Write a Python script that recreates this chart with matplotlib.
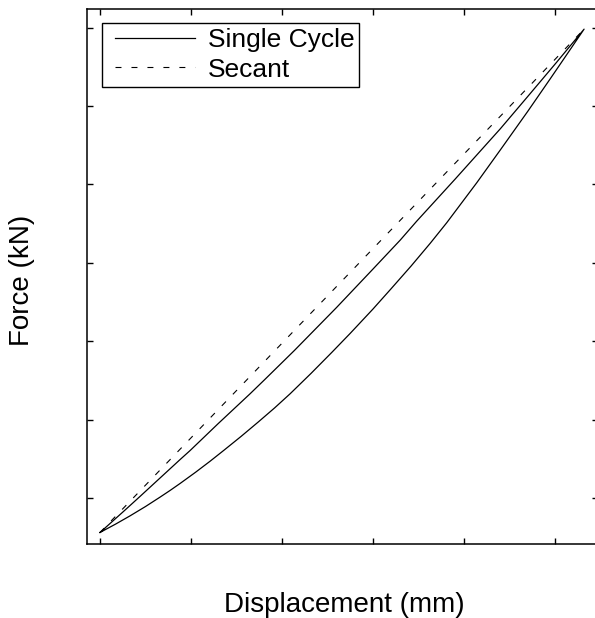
import matplotlib
matplotlib.use("Agg")
import matplotlib.pyplot as plt
from matplotlib.lines import Line2D
from matplotlib.legend_handler import HandlerLine2D

plt.rcParams['font.family'] = ['Liberation Sans', 'DejaVu Sans']
plt.rcParams['lines.scale_dashes'] = False

# Loading branch (lower curve)
load_x = [0.00, 0.17, 0.33, 0.50, 0.66, 0.77, 0.88, 1.05, 1.21, 1.36, 1.55, 1.74, 1.92,
          2.09, 2.32, 2.55, 2.75, 3.00, 3.20, 3.42, 3.63, 3.81, 4.14, 4.40, 4.70,
          4.95, 5.15, 5.32]
load_y = [-0.44, -0.334, -0.228, -0.109, 0.011, 0.096, 0.185, 0.328, 0.469, 0.607, 0.785,
          0.97, 1.15, 1.33, 1.59, 1.86, 2.10, 2.41, 2.67, 2.96, 3.25, 3.51, 4.02,
          4.44, 4.93, 5.35, 5.69, 5.98]
# Unloading branch (upper curve), from origin to peak
unload_x = [0.00, 0.26, 0.44, 0.66, 0.88, 0.99, 1.30, 1.65, 1.81, 2.135, 2.60, 3.00,
            3.30, 3.48, 3.905, 4.40, 4.70, 5.02, 5.32]
unload_y = [-0.44, -0.17, 0.02, 0.255, 0.49, 0.605, 0.95, 1.33, 1.51, 1.88, 2.43,
            2.92, 3.29, 3.53, 4.07, 4.71, 5.12, 5.56, 5.98]
# Secant endpoints
secant_x = [0.00, 5.32]
secant_y = [-0.44, 5.98]

x_ticks = [0, 1, 2, 3, 4, 5]
y_ticks = [0, 1, 2, 3, 4, 5, 6]

W, H = 595, 618
fig = plt.figure(figsize=(W / 100, H / 100), dpi=100)
ax = fig.add_axes([87 / W, 1 - 544 / H, 511 / W, 535 / H])

cyc_x = load_x + unload_x[::-1][1:]
cyc_y = load_y + unload_y[::-1][1:]
ax.plot(cyc_x, cyc_y, color='black', lw=0.9, label='Single Cycle')
ax.plot(secant_x, secant_y, color='black', lw=0.8, linestyle=(0, (4.3, 7.2)), label='Secant')

ax.set_xlim(-0.143, 5.473)
ax.set_ylim(-0.587, 6.237)
ax.set_xticks(x_ticks)
ax.set_yticks(y_ticks)
ax.tick_params(direction='in', length=4, width=1, top=True, right=True,
               labelbottom=False, labelleft=False)
for s in ax.spines.values():
    s.set_linewidth(1.1)

fig.text(344 / W, 1 - 612 / H, 'Displacement (mm)', fontsize=20,
         ha='center', va='baseline')
fig.text(22 / W, 1 - 280 / H, 'Force (kN)', fontsize=20, rotation=90,
         ha='center', va='center')

fs = 19
leg = ax.legend(loc='upper left', bbox_to_anchor=((101.7 - 87) / 511, (544 - 23.3) / 535),
                fontsize=fs, handlelength=3.36, handletextpad=0.47, borderpad=0.19,
                labelspacing=0.2, fancybox=False, framealpha=1,
                edgecolor='black', borderaxespad=0,
                handler_map={Line2D: HandlerLine2D(xpad=0.33)})
leg.get_frame().set_linewidth(1.0)

fig.savefig('out.png', dpi=100)
